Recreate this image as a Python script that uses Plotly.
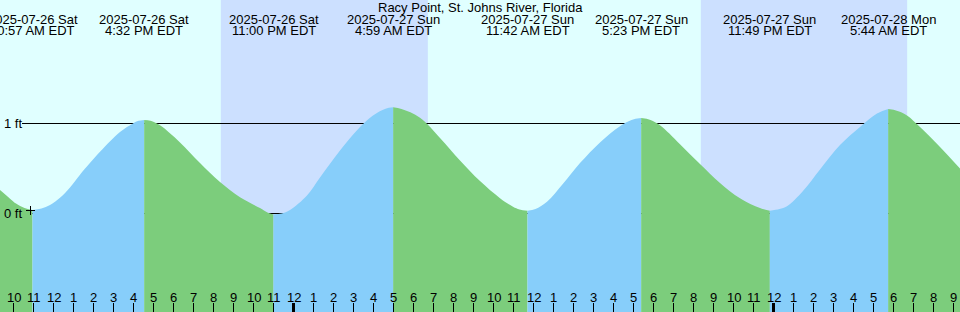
import math
import plotly.graph_objects as go
from datetime import datetime

# ---------------- data ----------------
title = "Racy Point, St. Johns River, Florida"
ref_time = datetime(2025, 7, 27, 0, 0)           # hours are counted from this instant
view_start_hours = -14.675                       # left edge of the chart, hours from ref_time
window_hours = 48.0

event_times = ["2025-07-26 10:57", "2025-07-26 16:32", "2025-07-26 23:00", "2025-07-27 04:59",
               "2025-07-27 11:42", "2025-07-27 17:23", "2025-07-27 23:49", "2025-07-28 05:44"]
event_days = ["2025-07-26 Sat", "2025-07-26 Sat", "2025-07-26 Sat", "2025-07-27 Sun",
              "2025-07-27 Sun", "2025-07-27 Sun", "2025-07-27 Sun", "2025-07-28 Mon"]
event_clock = ["10:57 AM EDT", "4:32 PM EDT", "11:00 PM EDT", "4:59 AM EDT",
               "11:42 AM EDT", "5:23 PM EDT", "11:49 PM EDT", "5:44 AM EDT"]
event_kind = ["low", "high", "low", "high", "low", "high", "low", "high"]
event_height_ft = [0.04, 1.04, -0.01, 1.18, 0.03, 1.06, 0.03, 1.16]

night_start = ["2025-07-26 20:22", "2025-07-27 20:22"]
night_end = ["2025-07-27 06:43", "2025-07-28 06:41"]

# water level samples (hours from ref_time, feet)
sample_hours = [-14.675, -14.2, -13.875, -13.45,
                -12.6, -12.175, -11.675, -11.175, -10.675, -9.675, -8.675, -8.025, -7.75,
                -7.15, -6.675, -5.675, -4.675, -3.675, -2.675, -1.675, -1.3,
                -0.6, -0.175, 0.675, 1.325, 2.325, 3.325, 3.975, 4.6,
                5.4, 6.325, 7.325, 8.325, 9.325, 10.325, 10.975, 11.3,
                12.1, 12.675, 13.475, 14.325, 15.325, 16.325, 16.9,
                17.85, 18.325, 19.325, 20.325, 21.325, 22.325, 23.325,
                24.3, 24.675, 25.475, 26.325, 27.325, 28.325, 29.175,
                30.2, 30.675, 31.325, 32.325, 33.325]
sample_ft = [0.26, 0.17, 0.11, 0.06,
             0.055, 0.095, 0.175, 0.29, 0.43, 0.685, 0.905, 1.0, 1.03,
             1.03, 0.98, 0.79, 0.56, 0.35, 0.18, 0.06, 0.01,
             0.0, 0.04, 0.20, 0.40, 0.70, 0.96, 1.09, 1.165,
             1.16, 1.065, 0.84, 0.59, 0.36, 0.17, 0.075, 0.045,
             0.05, 0.13, 0.33, 0.56, 0.79, 0.97, 1.04,
             1.04, 0.98, 0.77, 0.55, 0.34, 0.17, 0.06,
             0.05, 0.08, 0.25, 0.49, 0.76, 0.96, 1.11,
             1.14, 1.09, 0.96, 0.74, 0.50]

level_lines_ft = [0, 1]
level_labels = ["0 ft", "1 ft"]

# ---------------- styles ----------------
DAY = "#e0ffff"
NIGHT = "#cce0ff"
RISE = "#87cefa"
FALL = "#7ccd7c"
FONT = "Liberation Sans"
W, H = 960, 312
Y_MIN, Y_MAX = -1.094, 2.372


def hours(s):
    return (datetime.strptime(s, "%Y-%m-%d %H:%M") - ref_time).total_seconds() / 3600


x0 = view_start_hours
x1 = x0 + window_hours
ev_h = [hours(s) for s in event_times]

pts = sorted(list(zip(sample_hours, sample_ft)) + list(zip(ev_h, event_height_ft)))

fig = go.Figure()
bounds = [x0] + ev_h + [x1]
kinds_next = event_kind + ["low" if event_kind[-1] == "high" else "high"]
for i in range(len(bounds) - 1):
    a, b = bounds[i], bounds[i + 1]
    seg = [p for p in pts if a - 1e-9 <= p[0] <= b + 1e-9]
    color = RISE if kinds_next[i] == "high" else FALL
    xs = [p[0] for p in seg]
    ys = [p[1] for p in seg]
    fig.add_trace(go.Scatter(x=[xs[0], xs[-1]], y=[Y_MIN, Y_MIN], mode="lines",
                             line=dict(width=0), hoverinfo="skip", showlegend=False))
    fig.add_trace(go.Scatter(x=xs, y=ys, mode="lines", fill="tonexty", fillcolor=color,
                             line=dict(width=0, shape="spline", smoothing=1.0),
                             hoverinfo="skip", showlegend=False))

shapes = []
for s, e in zip(night_start, night_end):
    shapes.append(dict(type="rect", xref="x", yref="paper", x0=hours(s), x1=hours(e),
                       y0=0, y1=1, fillcolor=NIGHT, line=dict(width=0), layer="below"))
for lv in level_lines_ft:
    shapes.append(dict(type="line", xref="paper", yref="y", x0=22 / W, x1=1, y0=lv, y1=lv,
                       line=dict(color="black", width=1), layer="below"))
# small cross mark next to the datum label
shapes.append(dict(type="line", xref="paper", yref="paper", x0=26 / W, x1=35 / W,
                   y0=1 - 210.5 / H, y1=1 - 210.5 / H, line=dict(color="black", width=1)))
shapes.append(dict(type="line", xref="paper", yref="paper", x0=30.5 / W, x1=30.5 / W,
                   y0=1 - 206 / H, y1=1 - 215 / H, line=dict(color="black", width=1)))

annotations = []
for t in range(math.ceil(x0), math.floor(x1) + 1):
    hod = t % 24
    lab = str(hod % 12 or 12)
    thick = hod == 0
    shapes.append(dict(type="line", xref="x", yref="paper", x0=t, x1=t, y0=0, y1=9 / H,
                       line=dict(color="black", width=3 if thick else 1), layer="above"))
    annotations.append(dict(x=t, y=1 - 297.5 / H, xref="x", yref="paper", text=lab,
                            showarrow=False, xanchor="center", yanchor="middle",
                            font=dict(family=FONT, size=13, color="black")))

annotations.append(dict(x=0.5, y=1 - 7 / H, xref="paper", yref="paper", text=title,
                        showarrow=False, xanchor="center", yanchor="middle",
                        font=dict(family=FONT, size=13, color="black")))
for t, d, c in zip(ev_h, event_days, event_clock):
    annotations.append(dict(x=t, y=1 - 19 / H, xref="x", yref="paper", text=d, showarrow=False,
                            xanchor="center", yanchor="middle",
                            font=dict(family=FONT, size=13, color="black")))
    annotations.append(dict(x=t, y=1 - 31 / H, xref="x", yref="paper", text=c, showarrow=False,
                            xanchor="center", yanchor="middle",
                            font=dict(family=FONT, size=13, color="black")))
for lv, lab in zip(level_lines_ft, level_labels):
    annotations.append(dict(x=2 / W, y=lv, xref="paper", yref="y", text=lab, showarrow=False,
                            xanchor="left", yanchor="middle",
                            font=dict(family=FONT, size=13, color="black")))

fig.update_layout(
    width=W, height=H, margin=dict(l=0, r=0, t=0, b=0),
    paper_bgcolor=DAY, plot_bgcolor=DAY,
    xaxis=dict(range=[x0, x1], visible=False, fixedrange=True),
    yaxis=dict(range=[Y_MIN, Y_MAX], visible=False, fixedrange=True),
    shapes=shapes, annotations=annotations, showlegend=False,
)
fig.write_html("out.html", config={"displayModeBar": False})
